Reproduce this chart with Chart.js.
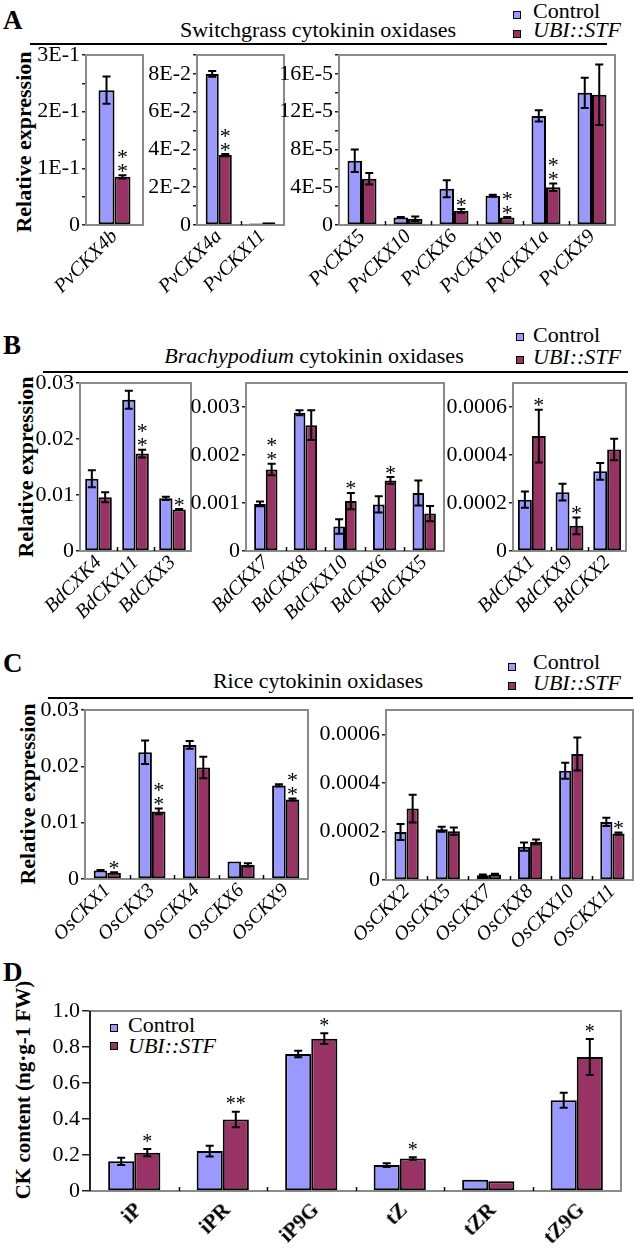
<!DOCTYPE html>
<html>
<head>
<meta charset="utf-8">
<script src="https://cdn.jsdelivr.net/npm/chart.js@4.4.1/dist/chart.umd.min.js"></script>
<style>
  body { margin: 0; background: #fff; width: 635px; height: 1255px; position: relative; overflow: hidden; font-family: "Liberation Serif", "Times New Roman", serif; color: #000; }
  canvas { position: absolute; }
  .t { position: absolute; white-space: nowrap; line-height: 1; font-family: "Liberation Serif", serif; }
  .letter { font-size: 27px; font-weight: bold; }
  .title { font-size: 22px; transform: translateX(-50%); }
  .rule { position: absolute; height: 2px; background: #000; }
  .leg { font-size: 22px; }
  .sq { position: absolute; width: 6px; height: 6px; border: 1.5px solid #000; }
  .ytitle { font-size: 22px; font-weight: bold; transform: translate(-50%, -50%) rotate(-90deg); }
</style>
</head>
<body>

<div class="t letter" style="left:3px; top:7px">A</div>
<div class="t title" style="left:318px; top:19px">Switchgrass cytokinin oxidases</div>
<div class="rule" style="left:30px; top:43px; width:577px"></div>
<div class="sq" style="left:513px; top:11px; background:#9999ff"></div>
<div class="sq" style="left:513px; top:30px; background:#993366"></div>
<div class="t leg" style="left:533px; top:0px">Control</div>
<div class="t leg" style="left:533px; top:19px"><i>UBI::STF</i></div>
<div class="t ytitle" style="left:24px; top:142px">Relative expression</div>

<div class="t letter" style="left:3px; top:332px">B</div>
<div class="t title" style="left:314px; top:345px"><i>Brachypodium</i> cytokinin oxidases</div>
<div class="rule" style="left:43px; top:371px; width:585px"></div>
<div class="sq" style="left:516px; top:333px; background:#9999ff"></div>
<div class="sq" style="left:516px; top:356px; background:#993366"></div>
<div class="t leg" style="left:533px; top:324px">Control</div>
<div class="t leg" style="left:533px; top:346px"><i>UBI::STF</i></div>
<div class="t ytitle" style="left:26px; top:467px">Relative expression</div>

<div class="t letter" style="left:3px; top:650px">C</div>
<div class="t title" style="left:318px; top:670px">Rice cytokinin oxidases</div>
<div class="rule" style="left:48px; top:697px; width:585px"></div>
<div class="sq" style="left:508px; top:663px; background:#9999ff"></div>
<div class="sq" style="left:508px; top:682px; background:#993366"></div>
<div class="t leg" style="left:533px; top:651px">Control</div>
<div class="t leg" style="left:533px; top:672px"><i>UBI::STF</i></div>
<div class="t ytitle" style="left:28px; top:794px">Relative expression</div>

<div class="t letter" style="left:3px; top:959px">D</div>
<div class="sq" style="left:110px; top:1024px; background:#9999ff"></div>
<div class="sq" style="left:110px; top:1042px; background:#993366"></div>
<div class="t leg" style="left:128px; top:1014px">Control</div>
<div class="t leg" style="left:128px; top:1035px"><i>UBI::STF</i></div>
<div class="t ytitle" style="left:23px; top:1090px; font-size:21px">CK content (ng·g-1 FW)</div>

<script>
// ---- data: switchgrass (A) ----
const pvGenes1 = ['PvCKX4b']
const pvCtrl1 = [0.238]
const pvCtrlErr1 = [0.024]
const pvStf1 = [0.085]
const pvStfErr1 = [0.003]
const pvSig1 = ['**']
const pvTicks1 = [0, 0.05, 0.1, 0.15, 0.2, 0.25, 0.3]
const pvTickLabels1 = ['0', '', '1E-1', '', '2E-1', '', '3E-1']

const pvGenes2 = ['PvCKX4a', 'PvCKX11']
const pvCtrl2 = [0.080, 0.0008]
const pvCtrlErr2 = [0.0015, 0]
const pvStf2 = [0.037, 0.0014]
const pvStfErr2 = [0.0006, 0]
const pvSig2 = ['**', '']
const pvTicks2 = [0, 0.01, 0.02, 0.03, 0.04, 0.05, 0.06, 0.07, 0.08, 0.09]
const pvTickLabels2 = ['0', '', '2E-2', '', '4E-2', '', '6E-2', '', '8E-2', '']

const pvGenes3 = ['PvCKX5', 'PvCKX10', 'PvCKX6', 'PvCKX1b', 'PvCKX1a', 'PvCKX9']
const pvCtrl3 = [6.8e-5, 0.8e-5, 3.85e-5, 3.1e-5, 11.55e-5, 14.0e-5]
const pvCtrlErr3 = [1.2e-5, 0.05e-5, 0.9e-5, 0.1e-5, 0.6e-5, 1.6e-5]
const pvStf3 = [4.9e-5, 0.65e-5, 1.5e-5, 0.8e-5, 4.0e-5, 13.8e-5]
const pvStfErr3 = [0.6e-5, 0.25e-5, 0.2e-5, 0.05e-5, 0.4e-5, 3.2e-5]
const pvSig3 = ['', '', '*', '**', '**', '']
const pvTicks3 = [0, 2e-5, 4e-5, 6e-5, 8e-5, 10e-5, 12e-5, 14e-5, 16e-5, 18e-5]
const pvTickLabels3 = ['0', '', '4E-5', '', '8E-5', '', '12E-5', '', '16E-5', '']

// ---- data: Brachypodium (B) ----
const bdGenes1 = ['BdCXK4', 'BdCKX11', 'BdCKX3']
const bdCtrl1 = [0.0129, 0.0270, 0.0094]
const bdCtrlErr1 = [0.0015, 0.0016, 0.0003]
const bdStf1 = [0.0096, 0.0174, 0.0074]
const bdStfErr1 = [0.0009, 0.0007, 0.0001]
const bdSig1 = ['', '**', '*']
const bdTicks1 = [0, 0.01, 0.02, 0.03]
const bdTickLabels1 = ['0', '0.01', '0.02', '0.03']

const bdGenes2 = ['BdCKX7', 'BdCKX8', 'BdCKX10', 'BdCKX6', 'BdCKX5']
const bdCtrl2 = [0.00098, 0.00288, 0.00051, 0.00097, 0.00121]
const bdCtrlErr2 = [0.00005, 0.00005, 0.00015, 0.00017, 0.00026]
const bdStf2 = [0.0017, 0.00262, 0.00104, 0.00147, 0.00078]
const bdStfErr2 = [0.00012, 0.00031, 0.00017, 0.00007, 0.00016]
const bdSig2 = ['**', '', '*', '*', '']
const bdTicks2 = [0, 0.001, 0.002, 0.003]
const bdTickLabels2 = ['0', '0.001', '0.002', '0.003']

const bdGenes3 = ['BdCKX1', 'BdCKX9', 'BdCKX2']
const bdCtrl3 = [0.000214, 0.000245, 0.000332]
const bdCtrlErr3 = [0.000034, 0.000035, 0.000035]
const bdStf3 = [0.000479, 0.000105, 0.000423]
const bdStfErr3 = [0.00011, 0.000035, 0.000045]
const bdSig3 = ['*', '*', '']
const bdTicks3 = [0, 0.0002, 0.0004, 0.0006]
const bdTickLabels3 = ['0', '0.0002', '0.0004', '0.0006']

// ---- data: rice (C) ----
const osGenes1 = ['OsCKX1', 'OsCKX3', 'OsCKX4', 'OsCKX6', 'OsCKX9']
const osCtrl1 = [0.0015, 0.0225, 0.0238, 0.0031, 0.0166]
const osCtrlErr1 = [0.0001, 0.0021, 0.0007, 0, 0.0002]
const osStf1 = [0.0011, 0.0120, 0.0198, 0.0025, 0.0141]
const osStfErr1 = [0.0001, 0.0005, 0.0019, 0.0003, 0.0002]
const osSig1 = ['*', '**', '', '', '**']
const osTicks1 = [0, 0.01, 0.02, 0.03]
const osTickLabels1 = ['0', '0.01', '0.02', '0.03']

const osGenes2 = ['OsCKX2', 'OsCKX5', 'OsCKX7', 'OsCKX8', 'OsCKX10', 'OsCKX11']
const osCtrl2 = [0.000198, 0.000209, 0.00002, 0.000137, 0.00045, 0.000239]
const osCtrlErr2 = [0.000033, 0.00001, 0.000003, 0.000017, 0.000033, 0.000017]
const osStf2 = [0.000294, 0.000201, 0.000023, 0.000157, 0.000519, 0.000191]
const osStfErr2 = [0.000057, 0.000015, 0.000003, 0.00001, 0.000068, 0.000005]
const osSig2 = ['', '', '', '', '', '*']
const osTicks2 = [0, 0.0002, 0.0004, 0.0006]
const osTickLabels2 = ['0', '0.0002', '0.0004', '0.0006']

// ---- data: cytokinin content (D) ----
const ckNames = ['iP', 'iPR', 'iP9G', 'tZ', 'tZR', 'tZ9G']
const ckCtrl = [0.165, 0.222, 0.761, 0.144, 0.063, 0.504]
const ckCtrlErr = [0.02, 0.03, 0.018, 0.01, 0, 0.042]
const ckStf = [0.213, 0.397, 0.846, 0.181, 0.054, 0.744]
const ckStfErr = [0.02, 0.043, 0.03, 0.007, 0, 0.1]
const ckSig = ['*', '**', '*', '*', '', '*']
const ckTicks = [0, 0.2, 0.4, 0.6, 0.8, 1.0]
const ckTickLabels = ['0', '0.2', '0.4', '0.6', '0.8', '1.0']

const FONT = '"Liberation Serif", "Times New Roman", serif'
const CTRL_COLOR = '#9999ff'
const STF_COLOR = '#993366'
const BOX_COLOR = '#8a8a8a'

// writes the label flat on a small canvas, then pastes it turned by 45 degrees
const drawSlanted = (ctx, text, font, x, y) => {
	const off = document.createElement('canvas')
	const oc = off.getContext('2d')
	oc.font = font
	const w = Math.ceil(oc.measureText(text).width) + 4
	off.width = w
	off.height = 28
	oc.font = font
	oc.fillStyle = '#000'
	oc.textAlign = 'right'
	oc.textBaseline = 'middle'
	oc.fillText(text, w - 2, 14)
	ctx.save()
	ctx.translate(x, y)
	ctx.rotate(-Math.PI / 4)
	ctx.drawImage(off, -(w - 2), -14)
	ctx.restore()
}

// box = [left, top, right, bottom] of the plot frame on the page
const makePanel = (box, d, o) => {
	const [l, t, r, b] = box
	const yW = 78
	const padT = 14
	const padR = 12
	const xH = o.xH || 90
	const W = r - l + yW + padR
	const H = b - t + padT + xH

	const canvas = document.createElement('canvas')
	canvas.width = W
	canvas.height = H
	canvas.style.left = `${l - yW}px`
	canvas.style.top = `${t - padT}px`
	canvas.style.width = `${W}px`
	canvas.style.height = `${H}px`
	document.body.appendChild(canvas)

	const decor = {
		id: 'decor',
		beforeDatasetsDraw(chart) {
			const { ctx, chartArea: a } = chart
			ctx.save()
			ctx.strokeStyle = BOX_COLOR
			ctx.lineWidth = 2
			ctx.strokeRect(a.left, a.top, a.right - a.left, a.bottom - a.top)
			if (o.darkLeft) {
				ctx.strokeStyle = '#222'
				ctx.beginPath()
				ctx.moveTo(a.left, a.top)
				ctx.lineTo(a.left, a.bottom)
				ctx.stroke()
			}
			// small marks between categories
			const n = d.labels.length
			const w = (a.right - a.left) / n
			ctx.strokeStyle = '#000'
			ctx.lineWidth = 1.5
			for (let i = 1; i < n; i++) {
				const x = Math.round(a.left + i * w) + 0.5
				ctx.beginPath()
				ctx.moveTo(x, a.bottom - 4)
				ctx.lineTo(x, a.bottom)
				ctx.stroke()
			}
			ctx.restore()
		},
		afterDatasetsDraw(chart) {
			const { ctx } = chart
			const y = chart.scales.y
			const sets = [[d.ctrl, d.ctrlErr], [d.stf, d.stfErr]]
			ctx.save()
			ctx.strokeStyle = '#000'
			ctx.lineWidth = 2
			sets.forEach(([vals, errs], si) => {
				const meta = chart.getDatasetMeta(si)
				vals.forEach((v, i) => {
					const e = errs[i]
					if (!e) { return }
					const x = meta.data[i].x
					const y1 = y.getPixelForValue(v + e)
					const y2 = y.getPixelForValue(v - e)
					ctx.beginPath()
					ctx.moveTo(x, y1)
					ctx.lineTo(x, y2)
					ctx.moveTo(x - 4, y1)
					ctx.lineTo(x + 4, y1)
					ctx.moveTo(x - 4, y2)
					ctx.lineTo(x + 4, y2)
					ctx.stroke()
				})
			})
			// significance stars above the UBI::STF bars
			const fs = o.starSize || 22
			ctx.fillStyle = '#000'
			ctx.font = `${fs}px ${FONT}`
			ctx.textAlign = 'center'
			ctx.textBaseline = 'alphabetic'
			const meta = chart.getDatasetMeta(1)
			d.sig.forEach((s, i) => {
				if (!s) { return }
				const x = meta.data[i].x
				const top = y.getPixelForValue(d.stf[i] + d.stfErr[i])
				const base = top - (o.starGap || 8) + fs * 0.48
				if (o.inlineStars) {
					ctx.fillText(s, x, base)
				} else {
					for (let k = 0; k < s.length; k++) {
						ctx.fillText('*', x, base - k * 14)
					}
				}
			})
			ctx.restore()
		},
		afterDraw(chart) {
			// category labels, slanted at 45 degrees under each group
			const { ctx, chartArea: a } = chart
			const xs = chart.scales.x
			d.labels.forEach((lab, i) => {
				const px = xs.getPixelForTick(i) + (o.labelDx || 0)
				const py = a.bottom + 8.5 + (o.labelDy || 0)
				if (o.bold) {
					drawSlanted(ctx, lab, `bold 21px ${FONT}`, px, py)
				} else {
					ctx.save()
					ctx.fillStyle = '#000'
					ctx.font = `italic 20px ${FONT}`
					ctx.textAlign = 'right'
					ctx.textBaseline = 'middle'
					ctx.translate(px, py)
					ctx.rotate(-Math.PI / 4)
					ctx.fillText(lab, 0, 0)
					ctx.restore()
				}
			})
		},
	}

	return new Chart(canvas, {
		type: 'bar',
		data: {
			labels: d.labels,
			datasets: [
				{ label: 'Control', data: d.ctrl, backgroundColor: CTRL_COLOR },
				{ label: 'UBI::STF', data: d.stf, backgroundColor: STF_COLOR },
			],
		},
		options: {
			responsive: false,
			animation: false,
			devicePixelRatio: 1,
			layout: { padding: { top: padT, right: padR, left: 0, bottom: 0 } },
			datasets: {
				bar: {
					borderColor: '#000',
					borderWidth: 2,
					borderSkipped: false,
					categoryPercentage: o.cp,
					barPercentage: 1,
				},
			},
			plugins: { legend: { display: false }, tooltip: { enabled: false } },
			scales: {
				x: {
					grid: { display: false },
					border: { display: false },
					ticks: { display: false },
					afterFit: (s) => {
						s.height = xH
						s.paddingLeft = 0
						s.paddingRight = 0
					},
				},
				y: {
					min: 0,
					max: d.max,
					afterBuildTicks: (s) => {
						s.ticks = d.ticks.map(v => ({ value: v }))
					},
					ticks: {
						autoSkip: false,
						padding: 2,
						color: '#000',
						font: { family: FONT, size: 22 },
						callback: (v, i) => d.tickLabels[i],
					},
					grid: { drawOnChartArea: false, drawTicks: true, tickLength: o.tickLength || 4, color: '#222', lineWidth: 1.5 },
					border: { display: false },
					afterFit: (s) => {
						s.width = yW
						s.paddingTop = 0
						s.paddingBottom = 0
					},
				},
			},
		},
		plugins: [decor],
	})
}

const pack = (labels, ctrl, ctrlErr, stf, stfErr, sig, ticks, tickLabels, max) => ({
	labels, ctrl, ctrlErr, stf, stfErr, sig, ticks, tickLabels, max,
})

makePanel([86, 55, 143, 225], pack(pvGenes1, pvCtrl1, pvCtrlErr1, pvStf1, pvStfErr1, pvSig1, pvTicks1, pvTickLabels1, 0.3), { cp: 0.56 })
makePanel([197, 55, 284, 225], pack(pvGenes2, pvCtrl2, pvCtrlErr2, pvStf2, pvStfErr2, pvSig2, pvTicks2, pvTickLabels2, 0.09), { cp: 0.6 })
makePanel([339, 55, 615, 225], pack(pvGenes3, pvCtrl3, pvCtrlErr3, pvStf3, pvStfErr3, pvSig3, pvTicks3, pvTickLabels3, 18e-5), { cp: 0.63 })

makePanel([80, 383, 191, 551], pack(bdGenes1, bdCtrl1, bdCtrlErr1, bdStf1, bdStfErr1, bdSig1, bdTicks1, bdTickLabels1, 0.03), { cp: 0.72 })
makePanel([246, 383, 444, 551], pack(bdGenes2, bdCtrl2, bdCtrlErr2, bdStf2, bdStfErr2, bdSig2, bdTicks2, bdTickLabels2, 0.0035), { cp: 0.59 })
makePanel([513, 383, 626, 551], pack(bdGenes3, bdCtrl3, bdCtrlErr3, bdStf3, bdStfErr3, bdSig3, bdTicks3, bdTickLabels3, 0.0007), { cp: 0.74 })

makePanel([85, 710, 308, 879], pack(osGenes1, osCtrl1, osCtrlErr1, osStf1, osStfErr1, osSig1, osTicks1, osTickLabels1, 0.03), { cp: 0.61 })
makePanel([386, 710, 633, 880], pack(osGenes2, osCtrl2, osCtrlErr2, osStf2, osStfErr2, osSig2, osTicks2, osTickLabels2, 0.0007), { cp: 0.59 })

makePanel([90, 1011, 621, 1191], pack(ckNames, ckCtrl, ckCtrlErr, ckStf, ckStfErr, ckSig, ckTicks, ckTickLabels, 1.0),
	{ cp: 0.59, xH: 62, bold: true, inlineStars: true, starSize: 20, starGap: 11, tickLength: 8, darkLeft: true, labelDx: 5, labelDy: 8 })
</script>
</body>
</html>
